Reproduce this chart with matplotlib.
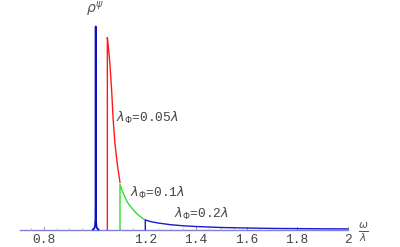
import matplotlib
matplotlib.use("Agg")
import matplotlib.pyplot as plt

# ---- data (arbitrary units for rho) ----
spike_w   = [0.993, 0.998, 1.001, 1.003, 1.0038, 1.004, 1.0042, 1.005, 1.007, 1.010, 1.015]
spike_rho = [0.0,   1.0,   3.0,   10.0,  60.0,   203.0, 60.0,   10.0,  3.0,   1.0,   0.0]

red_w   = [1.05, 1.05, 1.055, 1.06, 1.067, 1.073, 1.08, 1.09, 1.10]
red_rho = [0.0,  192., 180.,  166., 139.,  110.,  86.,  64.,  47.]

green_w   = [1.10, 1.10, 1.11, 1.12, 1.13, 1.14, 1.15, 1.16, 1.17, 1.18, 1.19, 1.20]
green_rho = [0.0,  45.,  38.,  32.,  27.,  23.5, 20.5, 17.5, 15.,  13.,  11.,  9.5]

blue_w   = [1.20, 1.20, 1.22, 1.25, 1.30, 1.35, 1.40, 1.50, 1.60, 1.70, 1.80, 1.90, 2.00]
blue_rho = [0.0,  9.5,  8.0,  6.5,  4.8,  3.7,  3.0,  2.0,  1.5,  1.1,  0.9,  0.7,  0.6]

major_ticks = [0.8, 1.2, 1.4, 1.6, 1.8, 2.0]
tick_labels = ["0.8", "1.2", "1.4", "1.6", "1.8", "2"]
minor_ticks = [0.75, 0.85, 0.9, 0.95, 1.05, 1.1, 1.15, 1.25, 1.3, 1.35,
               1.45, 1.5, 1.55, 1.65, 1.7, 1.75, 1.85, 1.9, 1.95]
labels = [r"$\lambda_\Phi$=0.05$\lambda$", r"$\lambda_\Phi$=0.1$\lambda$", r"$\lambda_\Phi$=0.2$\lambda$"]
label_pos = [(1.084, 111.5), (1.1395, 36.5), (1.313, 15.5)]

x_axis = (0.705, 2.0)

fig = plt.figure(figsize=(4.0, 2.47), dpi=100)
ax = fig.add_axes([0, 0, 1, 1])
ax.set_xlim(0.6257, 2.2067)
ax.set_ylim(-17.5, 229.5)
ax.set_axis_off()

gray = "#444444"
# horizontal axis
ax.plot(x_axis, [0, 0], color="#8080dc", lw=1.0, zorder=1)
for t in major_ticks:
    ax.plot([t, t], [0, 2.5], color="#888888", lw=0.6, zorder=1)
for t in minor_ticks:
    ax.plot([t, t], [0, 1.4], color="#aaaaaa", lw=0.5, zorder=1)
for t, lab in zip(major_ticks, tick_labels):
    ax.text(t, -10.5, lab, ha="center", va="center", fontsize=9.3,
            family="Liberation Mono", color=gray)

# curves
ax.plot(red_w, red_rho, color="#ff1a1a", lw=1.0, zorder=3)
ax.plot(green_w, green_rho, color="#33dd33", lw=1.0, zorder=4)
ax.plot(blue_w, blue_rho, color="#1a1acc", lw=1.0, zorder=5)
ax.plot(spike_w, spike_rho, color="#1010c8", lw=1.3, zorder=6)

for lab, (x, y) in zip(labels, label_pos):
    ax.text(x, y, lab, ha="left", va="center", fontsize=9.3,
            family="Liberation Mono", color=gray)

ax.text(1.0, 219.5, r"$\rho^{\psi}$", ha="center", va="center", fontsize=10, color="#555555")
ax.text(2.064, -2.5, r"$\frac{\omega}{\lambda}$", ha="center", va="center", fontsize=11, color="#555555")

fig.savefig("out.png", dpi=100)
